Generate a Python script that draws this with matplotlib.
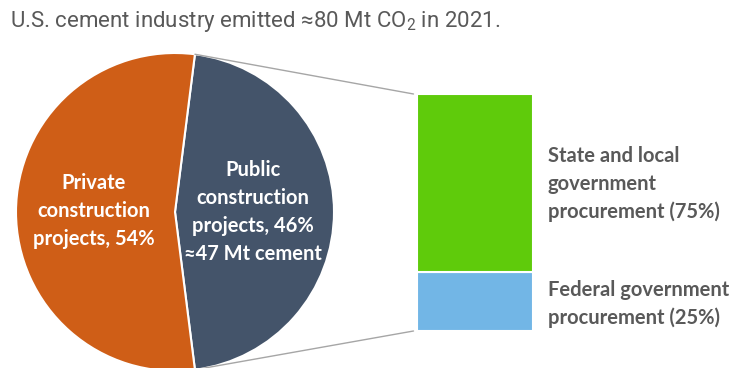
import matplotlib.pyplot as plt
from matplotlib.patches import ConnectionPatch
import numpy as np

# datos
pie_labels = ['Public\nconstruction\nprojects, 46%\n\u224847 Mt cement',
              'Private\nconstruction\nprojects, 54%']
pie_shares = [46, 54]
bar_labels = ['Federal government\nprocurement (25%)',
              'State and local\ngovernment\nprocurement (75%)']
bar_shares = [25, 75]
title = 'U.S. cement industry emitted \u224880 Mt CO$_2$ in 2021.'

plt.rcParams['mathtext.default'] = 'regular'
gris = '#595959'

W, H = 731, 368
fig = plt.figure(figsize=(W / 100, H / 100), dpi=100)

# eje principal en pixeles
ax = fig.add_axes([0, 0, 1, 1])
cx, cy, r = 175, 212, 159
ang = 360 * pie_shares[0] / sum(pie_shares)
wedges, _ = ax.pie(pie_shares, colors=['#44546a', '#cf5e17'], startangle=-ang / 2,
                   center=(cx, cy), radius=r,
                   wedgeprops=dict(edgecolor='white', linewidth=1.5))
ax.set_xlim(0, W)
ax.set_ylim(H, 0)
ax.set_aspect('equal')
ax.axis('off')

fuente = ['Lato', 'DejaVu Sans']
ax.text(94, 211, pie_labels[1], color='white', fontsize=14.5, fontweight='bold',
        ha='center', va='center', linespacing=1.5, family=fuente)
ax.text(253, 212, pie_labels[0], color='white', fontsize=14.5, fontweight='bold',
        ha='center', va='center', linespacing=1.5, family=fuente)

# barra apilada
bx = fig.add_axes([417 / W, 1 - 331 / H, 116 / W, 237 / H])
bottom = 0
for v, c in zip(bar_shares, ['#72b6e6', '#5fcb0b']):
    bx.bar(0, v, bottom=bottom, width=1, color=c, edgecolor='white', linewidth=1.5)
    bottom += v
bx.set_xlim(-0.5, 0.5)
bx.set_ylim(0, sum(bar_shares))
bx.axis('off')

# etiquetas de la barra
fig.text(548 / W, 1 - 184 / H, bar_labels[1], color=gris, fontsize=14.5, fontweight='bold',
         ha='left', va='center', linespacing=1.45, family=fuente)
fig.text(548 / W, 1 - 304 / H, bar_labels[0], color=gris, fontsize=14.5, fontweight='bold',
         ha='left', va='center', linespacing=1.45, family=fuente)

# lineas de conexion
t = np.deg2rad(ang / 2)
for sgn, yb in [(1, 1), (-1, 0)]:
    p = (cx + r * np.cos(t), cy - sgn * r * np.sin(t))
    con = ConnectionPatch(xyA=p, coordsA=ax.transData, xyB=(-0.03, yb), coordsB=bx.transAxes,
                          color='#a6a6a6', linewidth=1)
    fig.add_artist(con)

# titulo
fig.text(10 / W, 1 - 21 / H, title, color=gris, fontsize=16, ha='left', va='center',
         family=['Roboto', 'DejaVu Sans'], fontstretch='condensed')

fig.savefig('out.png', dpi=100)
